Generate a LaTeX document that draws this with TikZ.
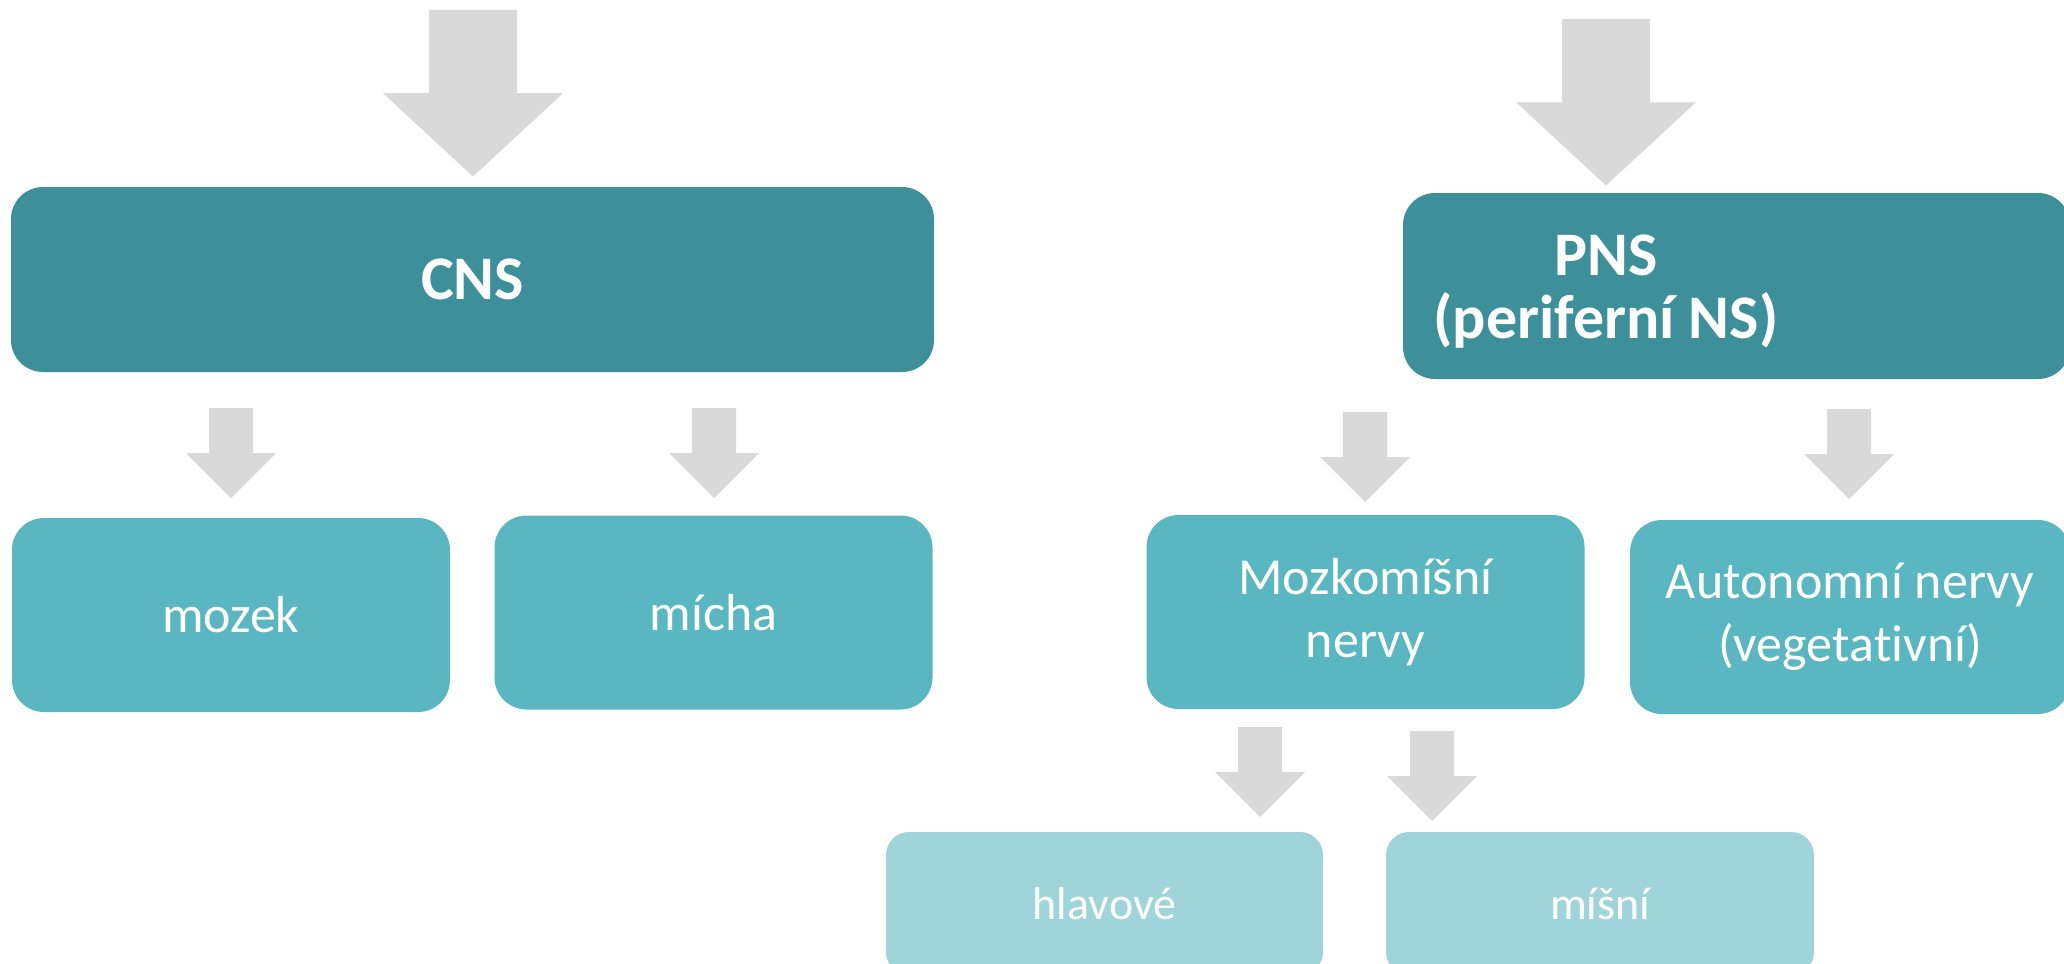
\documentclass[tikz,border=0pt]{standalone}
\usepackage{fontspec}
\setmainfont{Carlito}[Ligatures=NoCommon]

\definecolor{darkteal}{HTML}{3D8F99}
\definecolor{midteal}{HTML}{5AB6C1}
\definecolor{lightteal}{HTML}{9FD4DA}
\definecolor{arrowgrey}{HTML}{D9D9D9}

% grey block arrow pointing down: #1 x-scale, #2 y-scale, #3 centre x, #4 top y
\newcommand{\downblock}[4]{%
  \fill[arrowgrey, shift={(#3,#4)}, xscale=#1, yscale=#2]
    (-22,0) -- (22,0) -- (22,45) -- (45,45) -- (0,90) -- (-45,45) -- (-22,45) -- cycle;}

\tikzset{
  topbox/.style={fill=darkteal, rounded corners=16pt, inner sep=0pt},
  midbox/.style={fill=midteal, rounded corners=16pt, inner sep=0pt,
    minimum width=219pt, minimum height=97pt},
  lowbox/.style={fill=lightteal, rounded corners=11.5pt, inner sep=0pt,
    minimum height=71.5pt},
  toptext/.style={text=white, align=center, font=\fontsize{31}{31.5}\selectfont\bfseries},
  midtext/.style={text=white, align=center, font=\fontsize{26}{31.5}\selectfont},
  lowtext/.style={text=white, align=center, font=\fontsize{23}{28}\selectfont}
}

\begin{document}
\begin{tikzpicture}[x=0.5pt, y=-0.5pt]
    \useasboundingbox (0,0) rectangle (2064,963);
    \clip (0,0) rectangle (2064,963);

    % arrows
    \downblock{2}{1.85}{473}{10}
    \downblock{2}{1.85}{1606}{19}
    \downblock{1}{1}{231}{408}
    \downblock{1}{1}{714}{408}
    \downblock{1}{1}{1365}{412}
    \downblock{1}{1}{1849}{409}
    \downblock{1}{1}{1260}{727}
    \downblock{1}{1}{1432}{731}

    % top level
    \node[topbox, toptext, minimum width=461.5pt, minimum height=92.5pt] (cns) at (472.5,279.5) {CNS};
    \node[topbox, minimum width=333.5pt, minimum height=93pt] (pns) at (1736.5,286) {};
    \node[toptext] (pnstext) at (1606,292) {PNS\\(periferní NS)};

    % second level
    \node[midbox, midtext] (mozek) at (231,615) {mozek};
    \node[midbox, midtext] (micha) at (713.5,612.5) {mícha};
    \node[midbox, midtext] (mozkomisni) at (1365.5,612) {Mozkomíšní\\nervy};
    \node[midbox, midtext, minimum width=220pt] (autonomni) at (1850,617) {Autonomní nervy\\(vegeta\kern0pt tivní)};

    % third level
    \node[lowbox, lowtext, minimum width=218.5pt] (hlavove) at (1104.5,903.5) {hlavové};
    \node[lowbox, lowtext, minimum width=214pt] (misni) at (1600,903.5) {míšní};
\end{tikzpicture}
\end{document}
